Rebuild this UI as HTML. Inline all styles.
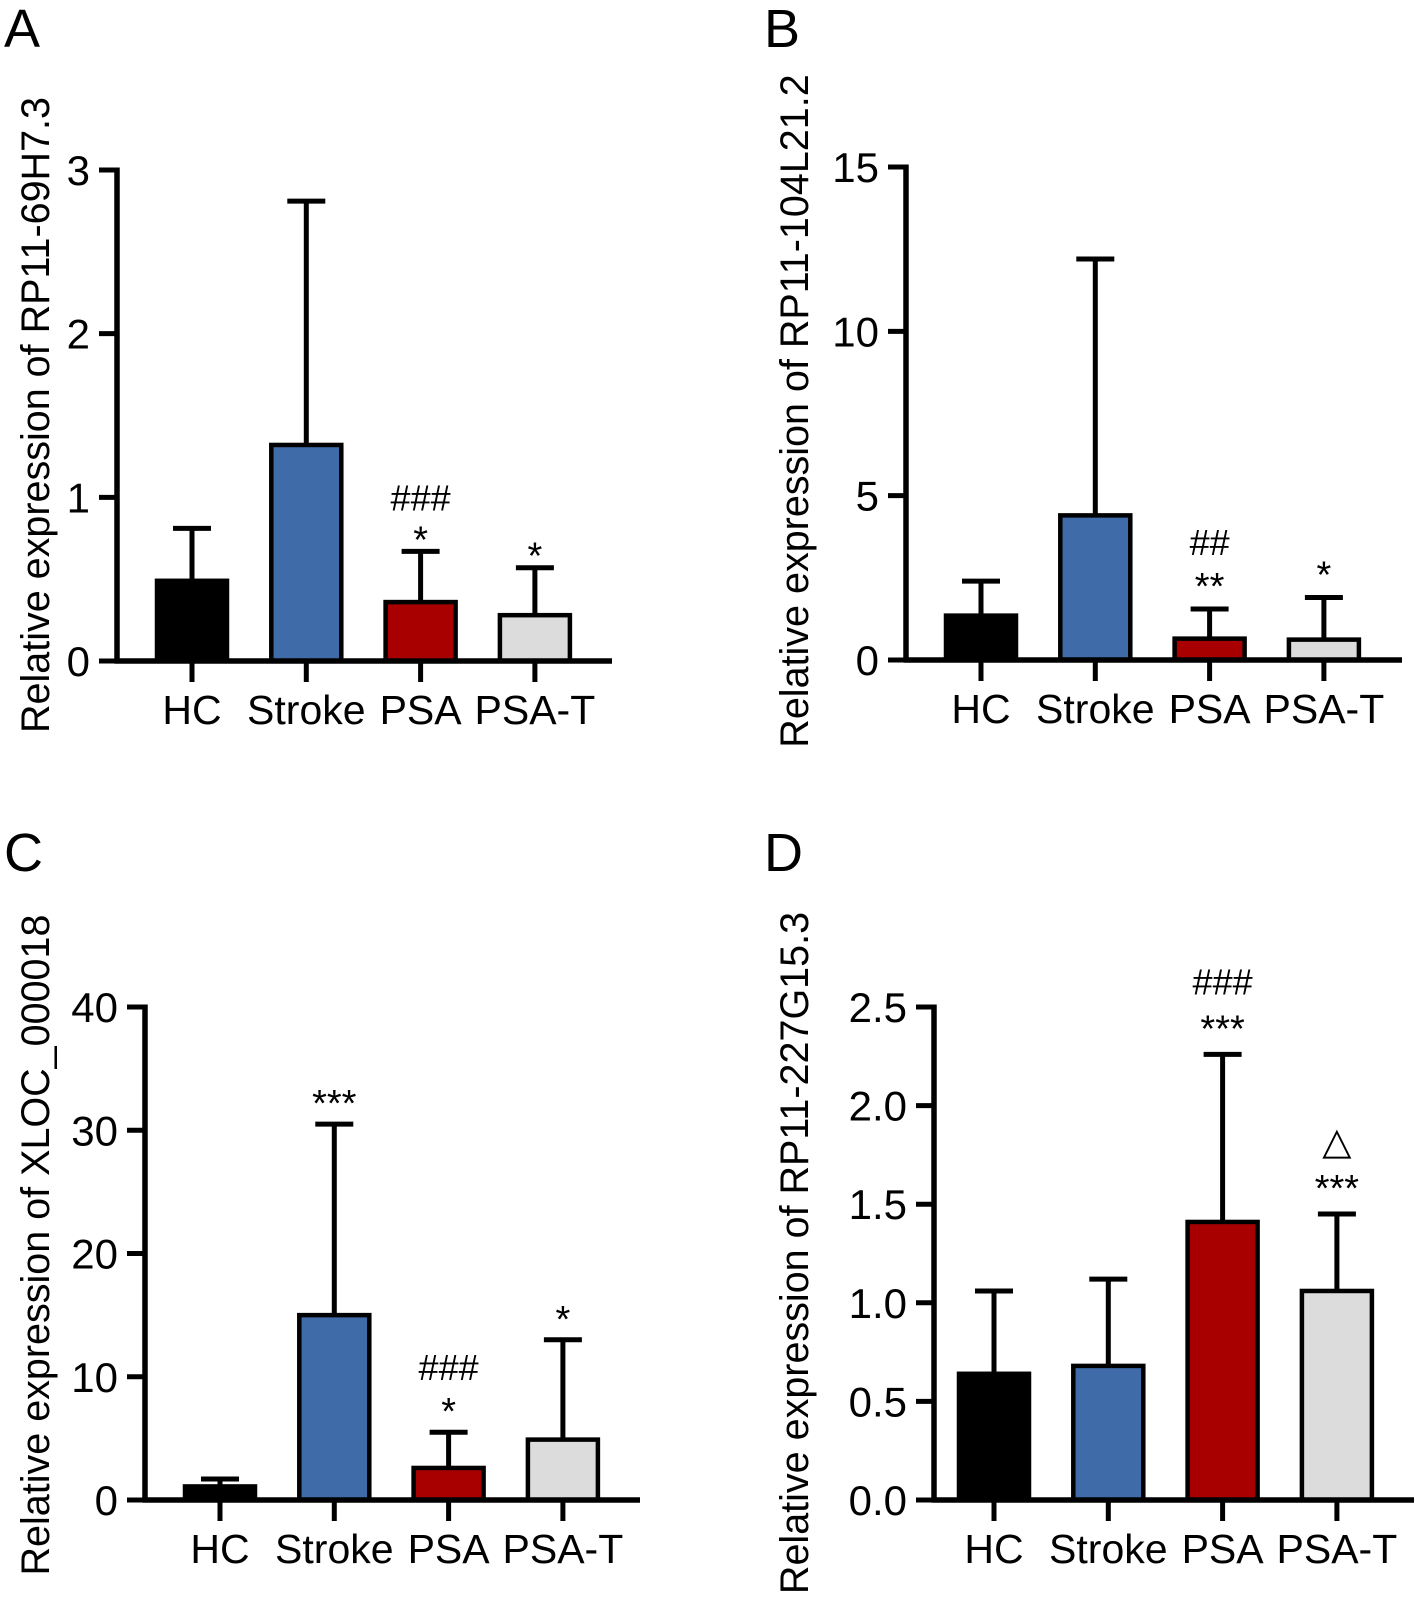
<!DOCTYPE html>
<html><head><meta charset="utf-8"><style>
html,body{margin:0;padding:0;background:#fff;}
svg{display:block;font-family:"Liberation Sans",Arial,sans-serif;}
</style></head><body>
<svg id="fig" width="1417" height="1601" viewBox="0 0 1417 1601" xmlns="http://www.w3.org/2000/svg"></svg>
<script>
const categories = ["HC","Stroke","PSA","PSA-T"];
const valuesA = [0.49, 1.32, 0.36, 0.28];
const errorsA = [0.81, 2.81, 0.67, 0.57];
const ticksA = [0,1,2,3];
const tickLabelsA = ["0","1","2","3"];
const annotA = [[],[],["*","###"],["*"]];
const valuesB = [1.35, 4.4, 0.65, 0.62];
const errorsB = [2.4, 12.2, 1.55, 1.9];
const ticksB = [0,5,10,15];
const tickLabelsB = ["0","5","10","15"];
const annotB = [[],[],["**","##"],["*"]];
const valuesC = [1.1, 15.0, 2.6, 4.9];
const errorsC = [1.7, 30.5, 5.5, 13.0];
const ticksC = [0,10,20,30,40];
const tickLabelsC = ["0","10","20","30","40"];
const annotC = [[],["***"],["*","###"],["*"]];
const valuesD = [0.64, 0.68, 1.41, 1.06];
const errorsD = [1.06, 1.12, 2.26, 1.45];
const ticksD = [0,0.5,1.0,1.5,2.0,2.5];
const tickLabelsD = ["0.0","0.5","1.0","1.5","2.0","2.5"];
const annotD = [[],[],["***","###"],["***","△"]];
const colors = ["#000000","#3f6ca8","#a80000","#dcdcdc"];

const NS="http://www.w3.org/2000/svg";
const svg=document.getElementById('fig');
function mk(tag,attrs,parent,text){const e=document.createElementNS(NS,tag);for(const k in attrs)e.setAttribute(k,attrs[k]);if(text!==undefined)e.textContent=text;(parent||svg).appendChild(e);return e;}

function panel(cfg){
  const g=mk('g',{});
  
  
  const ymax=cfg.ticks[cfg.ticks.length-1];
  const y=v=>cfg.y0-(v/ymax)*(cfg.y0-cfg.yTop);
  const x=i=>cfg.x0+cfg.first+i*cfg.step;
  const lt=mk('text',{x:cfg.lx,y:cfg.ly,'font-size':54,fill:'#000'},g,cfg.id.toUpperCase());
  
  
  cfg.values.forEach((v,i)=>{
    const cx=x(i), hw=35;
    const et=y(cfg.errors[i]);
    const el=mk('line',{x1:cx,x2:cx,y1:y(v),y2:et,stroke:'#000','stroke-width':5},g);
    
    
    const cap=mk('line',{x1:cx-19,x2:cx+19,y1:et,y2:et,stroke:'#000','stroke-width':5},g);
    
    
    const r=mk('rect',{x:cx-hw,y:y(v),width:hw*2,height:cfg.y0-y(v),fill:colors[i],stroke:'#000','stroke-width':4.5},g);
    
    
    cfg.annot[i].forEach((t,k)=>{
      const fs = t==='△'?38:(t.indexOf('#')>=0?36:38);
      const by = k===0 ? et+cfg.ast : et-cfg.gap2;
      const a=mk('text',{x:cx,y:by,'font-size':fs,'text-anchor':'middle',fill:'#000'},g,t);
      
      
    });
    const tk=mk('line',{x1:cx,x2:cx,y1:cfg.y0,y2:cfg.y0+21,stroke:'#000','stroke-width':5},g);
    
    
    const lb=mk('text',{x:cx,y:cfg.y0+63,'font-size':41,'text-anchor':'middle',fill:'#000'},g,categories[i]);
    
    
  });
  const ya=mk('line',{x1:cfg.x0,x2:cfg.x0,y1:cfg.yTop-2.5,y2:cfg.y0+2.5,stroke:'#000','stroke-width':5.5},g);
  
  
  const xa=mk('line',{x1:cfg.x0-2.5,x2:cfg.xEnd,y1:cfg.y0,y2:cfg.y0,stroke:'#000','stroke-width':5.5},g);
  
  
  cfg.ticks.forEach((t,j)=>{
    const tl=mk('line',{x1:cfg.x0-18,x2:cfg.x0,y1:y(t),y2:y(t),stroke:'#000','stroke-width':5},g);
    
    
    const tx=mk('text',{x:cfg.x0-27,y:y(t)+15,'font-size':42,'text-anchor':'end',fill:'#000'},g,cfg.tickLabels[j]);
    
    
  });
  const tt=mk('text',{x:0,y:0,'font-size':39.5,'text-anchor':'middle','dominant-baseline':'central',fill:'#000',transform:`translate(${cfg.tx},${cfg.ty}) rotate(-90)`},g,cfg.title);
  
  
}

panel({id:'a',x0:117,y0:661,yTop:170,xEnd:612,first:75,step:114.3,values:valuesA,errors:errorsA,ticks:ticksA,tickLabels:tickLabelsA,annot:annotA,ast:1,gap2:41,lx:4,ly:47,tx:36,ty:415,title:"Relative expression of RP11-69H7.3"});
panel({id:'b',x0:906,y0:660,yTop:167,xEnd:1402,first:75,step:114.3,values:valuesB,errors:errorsB,ticks:ticksB,tickLabels:tickLabelsB,annot:annotB,ast:-10,gap2:54,lx:764,ly:47,tx:795,ty:411,title:"Relative expression of RP11-104L21.2"});
panel({id:'c',x0:145,y0:1500,yTop:1007,xEnd:640,first:75,step:114.3,values:valuesC,errors:errorsC,ticks:ticksC,tickLabels:tickLabelsC,annot:annotC,ast:-8,gap2:52,lx:4,ly:871,tx:36,ty:1245,title:"Relative expression of XLOC_000018"});
panel({id:'d',x0:934,y0:1500,yTop:1007,xEnd:1414,first:60,step:114.3,values:valuesD,errors:errorsD,ticks:ticksD,tickLabels:tickLabelsD,annot:annotD,ast:-13,gap2:60,lx:764,ly:871,tx:795,ty:1253,title:"Relative expression of RP11-227G15.3"});
</script>
</body></html>
